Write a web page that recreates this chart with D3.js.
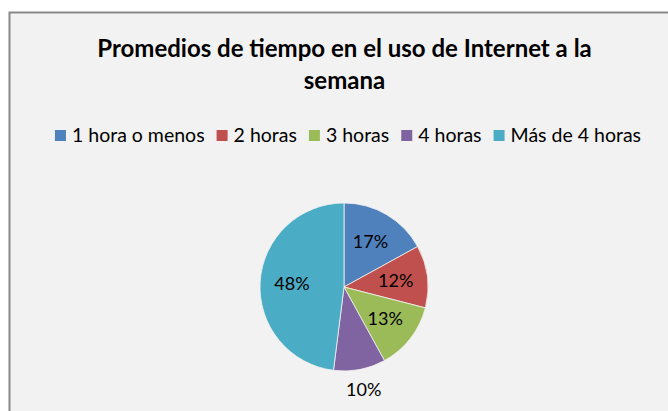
<!DOCTYPE html>
<meta charset="utf-8">
<script src="https://d3js.org/d3.v7.min.js"></script>
<style>
  body { margin: 0; background: #fff; }
  text { font-family: Lato, "Open Sans", sans-serif; fill: #000; }
</style>
<div id="chart"></div>
<script>

// data
var categories = ["1 hora o menos", "2 horas", "3 horas", "4 horas", "Más de 4 horas"];
var values = [17, 12, 13, 10, 48];
var colors = ["#4f81bd", "#c0504d", "#9bbb59", "#8064a2", "#4bacc6"];
var titleLines = ["Promedios de tiempo en el uso de Internet a la", "semana"];

var width = 668, height = 411;
var cx = 344, cy = 287, radius = 84;

var svg = d3.select("#chart")
  .append("svg")
    .attr("width", width)
    .attr("height", height);

// chart area with its frame (runs off the right and bottom edges)
svg.append("rect")
  .attr("x", 9.5)
  .attr("y", 12.5)
  .attr("width", width)
  .attr("height", height)
  .attr("fill", "#f2f2f2")
  .attr("stroke", "#898989")
  .attr("stroke-width", 2);

// title
svg.append("g")
  .selectAll("text")
  .data(titleLines)
  .enter()
  .append("text")
    .attr("x", 344.5)
    .attr("y", (d, i) => 57 + i * 31.5)
    .attr("text-anchor", "middle")
    .style("font-weight", "bold")
    .style("font-size", "24px")
    .text(d => d);

// legend, laid out left to right then centred
var legend = svg.append("g");
var items = legend.selectAll("g")
  .data(categories)
  .enter()
  .append("g");

items.append("rect")
  .attr("y", -12)
  .attr("width", 11)
  .attr("height", 11)
  .attr("fill", (d, i) => colors[i]);

items.append("text")
  .attr("x", 17)
  .style("font-size", "19.5px")
  .text(d => d);

var pos = 0;
items.each(function() {
  var g = d3.select(this);
  g.attr("transform", "translate(" + pos + ",0)");
  pos += 17 + g.select("text").node().getComputedTextLength() + 12;
});
var legendWidth = pos - 12;
legend.attr("transform", "translate(" + (348 - legendWidth / 2) + ",142)");

// pie
var pie = d3.pie()
  .sort(null)
  .value(d => d);

var arc = d3.arc()
  .innerRadius(0)
  .outerRadius(radius);

var inside = d3.arc()
  .innerRadius(radius * 0.62)
  .outerRadius(radius * 0.62);

var outside = d3.arc()
  .innerRadius(radius * 1.25)
  .outerRadius(radius * 1.25);

var slices = pie(values);

var g = svg.append("g")
  .attr("transform", "translate(" + cx + "," + cy + ")");

g.selectAll("path")
  .data(slices)
  .enter()
  .append("path")
    .attr("d", arc)
    .attr("fill", (d, i) => colors[i])
    .attr("stroke", "#f2f2f2")
    .attr("stroke-width", 0.8);

// labels: small slices get their label outside the pie
g.selectAll(".label")
  .data(slices)
  .enter()
  .append("text")
    .attr("class", "label")
    .attr("transform", d => "translate(" + (d.data < 11 ? outside : inside).centroid(d) + ")")
    .attr("text-anchor", "middle")
    .attr("dy", "0.35em")
    .style("font-size", "18px")
    .text(d => d.data + "%");

</script>
